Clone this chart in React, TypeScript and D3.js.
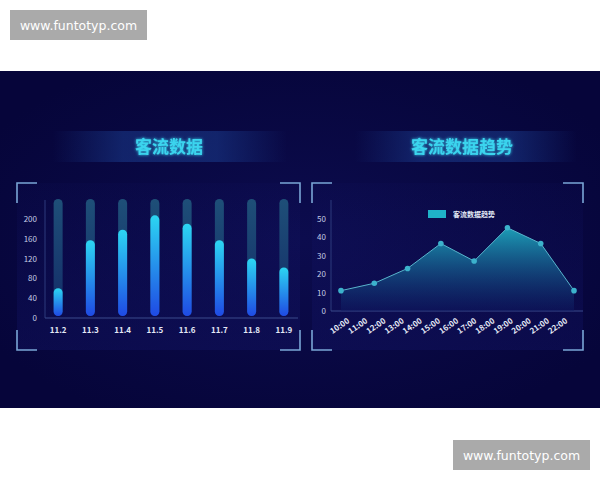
import { useMemo } from 'react';
import { scaleBand, scaleLinear, scalePoint, area, line } from 'd3';

const days = ['11.2', '11.3', '11.4', '11.5', '11.6', '11.7', '11.8', '11.9'];
const dayValues = [60, 157, 178, 207, 190, 157, 120, 102];
const dayTicks = [0, 40, 80, 120, 160, 200];
const dayMax = 240;

const hours = ['10:00', '11:00', '12:00', '13:00', '14:00', '15:00', '16:00', '17:00', '18:00', '19:00', '20:00', '21:00', '22:00'];
const trendValues = [11, 15, 23, 36.5, 27, 45, 36.5, 11];
const trendTicks = [0, 10, 20, 30, 40, 50];

const titleLeft = '客流数据';
const titleRight = '客流数据趋势';
const legendLabel = '客流数据趋势';
const watermark = 'www.funtotyp.com';

const font = "'Noto Sans CJK SC', 'DejaVu Sans', sans-serif";

function Brackets({ x0, x1, y0, y1 }: { x0: number; x1: number; y0: number; y1: number }) {
  const l = 20;
  const d = [
    `M${x0},${y0 + l}V${y0}H${x0 + l}`,
    `M${x1 - l},${y0}H${x1}V${y0 + l}`,
    `M${x0},${y1 - l}V${y1}H${x0 + l}`,
    `M${x1 - l},${y1}H${x1}V${y1 - l}`,
  ].join('');
  return <path d={d} fill="none" stroke="#7aa6d6" strokeWidth={1.6} />;
}

function Title({ cx, x0, x1, text }: { cx: number; x0: number; x1: number; text: string }) {
  return (
    <g>
      <rect x={x0} y={131} width={x1 - x0} height={31} fill="url(#banner)" />
      <text
        x={cx}
        y={153}
        textAnchor="middle"
        fontFamily={font}
        fontWeight="bold"
        fontSize={17}
        fill="#3ad4ee"
        filter="url(#glow)"
      >
        {text}
      </text>
    </g>
  );
}

export default function App() {
  const x = useMemo(() => scaleBand().domain(days).range([42, 300]), []);
  const y = useMemo(() => scaleLinear().domain([0, dayMax]).range([318, 199]), []);

  const xh = useMemo(() => scalePoint().domain(hours).range([350, 568]), []);
  const xp = useMemo(
    () => scalePoint<number>().domain(trendValues.map((_, i) => i)).range([341, 574]),
    []
  );
  const yr = useMemo(() => scaleLinear().domain([0, 50]).range([311, 218.5]), []);

  const areaPath = area<number>()
    .x((_, i) => xp(i)!)
    .y0(yr(0))
    .y1((d) => yr(d))(trendValues)!;
  const linePath = line<number>()
    .x((_, i) => xp(i)!)
    .y((d) => yr(d))(trendValues)!;

  const bw = 9;

  return (
    <div style={{ position: 'absolute', left: 0, top: 0 }}>
      <svg width={600} height={480} style={{ display: 'block', background: '#fff' }}>
        <defs>
          <radialGradient id="panelBg" cx="50%" cy="50%" r="60%">
            <stop offset="0%" stopColor="#0c0c4e" />
            <stop offset="100%" stopColor="#06053a" />
          </radialGradient>
          <linearGradient id="banner" x1="0" x2="1" y1="0" y2="0">
            <stop offset="0%" stopColor="#1a3b8c" stopOpacity={0} />
            <stop offset="30%" stopColor="#1a3b8c" stopOpacity={0.55} />
            <stop offset="70%" stopColor="#1a3b8c" stopOpacity={0.55} />
            <stop offset="100%" stopColor="#1a3b8c" stopOpacity={0} />
          </linearGradient>
          <linearGradient id="inner" x1="0" x2="0" y1="0" y2="1">
            <stop offset="0%" stopColor="#14166a" stopOpacity={0.1} />
            <stop offset="100%" stopColor="#14166a" stopOpacity={0.35} />
          </linearGradient>
          <linearGradient id="barBg" x1="0" x2="0" y1="0" y2="1">
            <stop offset="0%" stopColor="#1e4f78" />
            <stop offset="100%" stopColor="#132c68" />
          </linearGradient>
          <linearGradient id="barFg" x1="0" x2="0" y1="0" y2="1">
            <stop offset="0%" stopColor="#2cd6f2" />
            <stop offset="100%" stopColor="#1f4ae4" />
          </linearGradient>
          <linearGradient id="areaFill" gradientUnits="userSpaceOnUse" x1="0" x2="0" y1={yr(46)} y2={yr(0)}>
            <stop offset="0%" stopColor="#1eaac0" stopOpacity={0.95} />
            <stop offset="100%" stopColor="#0e1a62" stopOpacity={0.45} />
          </linearGradient>
          <filter id="glow" x="-20%" y="-50%" width="140%" height="200%">
            <feGaussianBlur stdDeviation="1.5" result="b" />
            <feMerge>
              <feMergeNode in="b" />
              <feMergeNode in="SourceGraphic" />
            </feMerge>
          </filter>
        </defs>

        <rect x={0} y={71} width={600} height={337} fill="url(#panelBg)" />

        <Title cx={169} x0={53} x1={287} text={titleLeft} />
        <Title cx={462} x0={355} x1={577} text={titleRight} />

        <rect x={17} y={183} width={283} height={167} fill="url(#inner)" />
        <rect x={312} y={183} width={271} height={167} fill="url(#inner)" />
        <Brackets x0={17} x1={300} y0={183} y1={350} />
        <Brackets x0={312} x1={583} y0={183} y1={350} />

        {/* left: daily bars */}
        <line x1={45} x2={45} y1={200} y2={y(0)} stroke="#2c3a7c" />
        <line x1={45} x2={298} y1={y(0)} y2={y(0)} stroke="#3a4a8c" />
        {dayTicks.map((t) => (
          <text key={t} x={37} y={y(t) + 3} textAnchor="end" fontFamily={font} fontSize={8} fill="#c4cce4">
            {t}
          </text>
        ))}
        {days.map((d, i) => {
          const cx = x(d)! + x.bandwidth() / 2;
          return (
            <g key={d}>
              <rect x={cx - bw / 2} y={y(dayMax)} width={bw} height={y(0) - 2 - y(dayMax)} rx={4.5} fill="url(#barBg)" />
              <rect x={cx - bw / 2} y={y(dayValues[i])} width={bw} height={y(0) - 2 - y(dayValues[i])} rx={4.5} fill="url(#barFg)" />
              <text x={cx} y={333} textAnchor="middle" fontFamily={font} fontWeight="bold" fontSize={8} fill="#e4e9f6">
                {d}
              </text>
            </g>
          );
        })}

        {/* right: hourly trend */}
        <line x1={331} x2={331} y1={200} y2={yr(0)} stroke="#2c3a7c" />
        <line x1={331} x2={583} y1={yr(0)} y2={yr(0)} stroke="#3a4a8c" />
        {trendTicks.map((t) => (
          <text key={t} x={326} y={yr(t) + 3} textAnchor="end" fontFamily={font} fontSize={8} fill="#c4cce4">
            {t}
          </text>
        ))}
        {hours.map((h) => (
          <text
            key={h}
            transform={`translate(${xh(h)},${322}) rotate(-35)`}
            textAnchor="end"
            fontFamily={font}
            fontWeight="bold"
            fontSize={8}
            fill="#e4e9f6"
          >
            {h}
          </text>
        ))}
        <path d={areaPath} fill="url(#areaFill)" />
        <path d={linePath} fill="none" stroke="#58b4cc" strokeWidth={1} />
        {trendValues.map((v, i) => (
          <circle key={i} cx={xp(i)} cy={yr(v)} r={2.8} fill="#3cb2cc" />
        ))}
        <rect x={428} y={210} width={18} height={8} fill="#1fb2c8" />
        <text x={453} y={217} fontFamily={font} fontWeight="bold" fontSize={7} fill="#e4e9f6">
          {legendLabel}
        </text>

        {/* watermarks */}
        <rect x={10} y={10} width={137} height={30} fill="#aaaaaa" />
        <text x={78.5} y={29.5} textAnchor="middle" fontFamily="'DejaVu Sans', sans-serif" fontSize={12.5} fill="#fff">
          {watermark}
        </text>
        <rect x={453} y={440} width={137} height={30} fill="#aaaaaa" />
        <text x={521.5} y={459.5} textAnchor="middle" fontFamily="'DejaVu Sans', sans-serif" fontSize={12.5} fill="#fff">
          {watermark}
        </text>
      </svg>
    </div>
  );
}
